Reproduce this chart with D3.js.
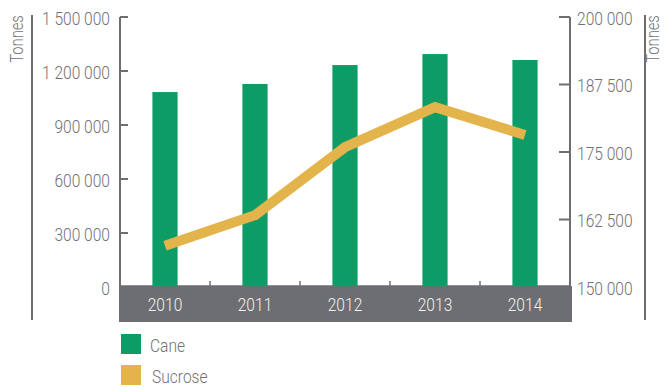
<!DOCTYPE html>
<html>
<head>
<meta charset="utf-8">
<script src="https://cdn.jsdelivr.net/npm/d3@7"></script>
<style>
  html, body { margin: 0; padding: 0; background: #fff; }
  svg { display: block; }
  text { font-family: "Roboto", "Liberation Sans", sans-serif; font-weight: 300; }
</style>
</head>
<body>
<svg id="chart" width="664" height="387"></svg>
<script>
// Annual cane and sucrose production
const years = ["2010", "2011", "2012", "2013", "2014"];
const caneTonnes = [1083000, 1128000, 1233000, 1294000, 1261000];
const sucroseTonnes = [157650, 163300, 175900, 183300, 178150];
const leftTicks = [0, 300000, 600000, 900000, 1200000, 1500000];
const rightTicks = [150000, 162500, 175000, 187500, 200000];
const legendItems = ["Cane", "Sucrose"];

const GREEN = "#0e9c66";
const GOLD = "#e3b44b";
const GREY = "#6d6e71";
const TEXT = "#707174";
const SQUEEZE = 0.82;   // horizontal condensing of all labels
const FS = 19;

const svg = d3.select("#chart");
const plotL = 120, plotR = 570, plotT = 17, plotB = 287;

const x = d3.scaleBand().domain(years).range([plotL, plotR])
  .paddingInner(0.72).paddingOuter(0.36);
const yCane = d3.scaleLinear().domain([0, 1500000]).range([plotB, plotT]);
const ySucrose = d3.scaleLinear().domain([150000, 200000]).range([plotB, plotT]);

const fmt = v => d3.format(",")(v).replace(/,/g, " ");
const place = (px, py, rot = 0) =>
  `translate(${px},${py})` + (rot ? ` rotate(${rot})` : "") + ` scale(${SQUEEZE},1)`;

// grey category band under the plot
svg.append("rect")
  .attr("x", plotL - 1).attr("y", plotB - 1)
  .attr("width", plotR - plotL + 3).attr("height", 36)
  .attr("fill", GREY);

// bars
svg.append("g").selectAll("rect")
  .data(years.map((y, i) => ({ year: y, v: caneTonnes[i] })))
  .join("rect")
  .attr("x", d => x(d.year))
  .attr("width", x.bandwidth())
  .attr("y", d => yCane(d.v))
  .attr("height", d => yCane(0) - yCane(d.v))
  .attr("fill", GREEN);

// bottom axis line with separators between categories
const gap = (x.step() - x.bandwidth()) / 2;
const bottomAxis = svg.append("g");
bottomAxis.append("line")
  .attr("x1", plotL).attr("x2", plotR)
  .attr("y1", plotB - 1).attr("y2", plotB - 1)
  .attr("stroke", GREY).attr("stroke-width", 1.5);
bottomAxis.selectAll("line.sep")
  .data(years.slice(1))
  .join("line").attr("class", "sep")
  .attr("x1", d => x(d) - gap)
  .attr("x2", d => x(d) - gap)
  .attr("y1", plotB - 1).attr("y2", plotB - 6)
  .attr("stroke", GREY).attr("stroke-width", 1.5);

// year labels inside the band
svg.append("g").selectAll("text")
  .data(years)
  .join("text")
  .attr("transform", d => place(x(d) + x.bandwidth() / 2, plotB + 17))
  .attr("text-anchor", "middle")
  .attr("dominant-baseline", "central")
  .attr("font-size", FS)
  .attr("fill", "#f2f2f2")
  .text(d => d);

// left axis
const la = svg.append("g");
la.append("line")
  .attr("x1", plotL).attr("x2", plotL).attr("y1", plotT).attr("y2", plotB)
  .attr("stroke", GREY).attr("stroke-width", 2);
la.selectAll("line.t").data(leftTicks.slice(1)).join("line").attr("class", "t")
  .attr("x1", plotL).attr("x2", plotL + 8)
  .attr("y1", d => yCane(d)).attr("y2", d => yCane(d))
  .attr("stroke", GREY).attr("stroke-width", 2);
la.selectAll("text").data(leftTicks).join("text")
  .attr("transform", d => place(plotL - 10, yCane(d) + 1))
  .attr("text-anchor", "end").attr("dominant-baseline", "central")
  .attr("font-size", FS).attr("fill", TEXT)
  .text(fmt);

// right axis
const ra = svg.append("g");
ra.append("line")
  .attr("x1", plotR).attr("x2", plotR).attr("y1", plotT).attr("y2", plotB)
  .attr("stroke", GREY).attr("stroke-width", 2);
ra.selectAll("line.t").data(rightTicks.slice(1)).join("line").attr("class", "t")
  .attr("x1", plotR).attr("x2", plotR - 11)
  .attr("y1", d => ySucrose(d)).attr("y2", d => ySucrose(d))
  .attr("stroke", GREY).attr("stroke-width", 2);
ra.selectAll("text").data(rightTicks).join("text")
  .attr("transform", d => place(plotR + 7, ySucrose(d) + 1))
  .attr("text-anchor", "start").attr("dominant-baseline", "central")
  .attr("font-size", FS).attr("fill", TEXT)
  .text(fmt);

// sucrose line
const line = d3.line()
  .x((d, i) => x(years[i]) + x.bandwidth() / 2)
  .y(d => ySucrose(d));
svg.append("path")
  .datum(sucroseTonnes)
  .attr("d", line)
  .attr("fill", "none")
  .attr("stroke", GOLD)
  .attr("stroke-width", 10)
  .attr("stroke-linejoin", "miter");

// outer unit rules and titles
[[32, 17], [645, 653]].forEach(([lx, tx]) => {
  svg.append("line")
    .attr("x1", lx).attr("x2", lx).attr("y1", 15).attr("y2", 320)
    .attr("stroke", GREY).attr("stroke-width", 2);
  svg.append("text")
    .attr("transform", place(tx, 39, -90))
    .attr("text-anchor", "middle").attr("dominant-baseline", "central")
    .attr("font-size", 18).attr("fill", TEXT)
    .text("Tonnes");
});

// legend
const lg = svg.append("g").selectAll("g")
  .data(legendItems)
  .join("g")
  .attr("transform", (d, i) => `translate(121,${334 + i * 31})`);
lg.append("rect").attr("width", 20).attr("height", 20)
  .attr("fill", (d, i) => [GREEN, GOLD][i]);
lg.append("text")
  .attr("transform", (d, i) => place(29 + i * 2, 11))
  .attr("dominant-baseline", "central")
  .attr("font-size", FS).attr("fill", TEXT)
  .text(d => d);
</script>
</body>
</html>
